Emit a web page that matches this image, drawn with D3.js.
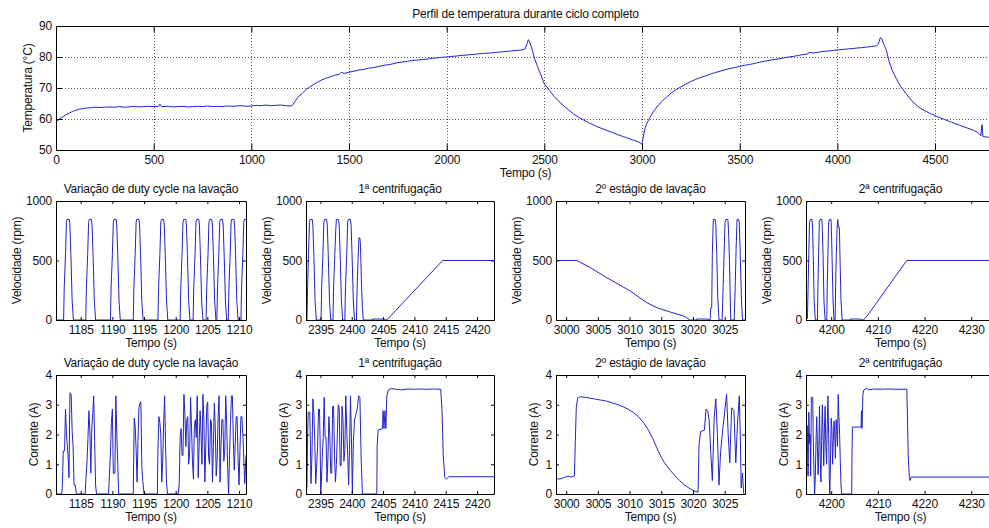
<!DOCTYPE html>
<html>
<head>
<meta charset="utf-8">
<script src="https://cdn.jsdelivr.net/npm/d3@7"></script>
<style>
  body { margin: 0; background: #fff; }
  svg { display: block; background: #fff; }
  text { font-family: "Liberation Sans", Arial, Helvetica, sans-serif; font-size: 12px; letter-spacing: -0.2px; fill: #111; }
</style>
</head>
<body>
<svg id="chart" width="989" height="528"></svg>
<script>
// ---- data ----
const tempTitle = 'Perfil de temperatura durante ciclo completo';
const panelTitles = ['Variação de duty cycle na lavação', '1ª centrifugação', '2º estágio de lavação', '2ª centrifugação'];

const tempXTicks = [0, 500, 1000, 1500, 2000, 2500, 3000, 3500, 4000, 4500];
const tempYTicks = [50, 60, 70, 80, 90];
const velYTicks = [0, 500, 1000];
const curYTicks = [0, 1, 2, 3, 4];
const panelXTicks = [
  [1185, 1190, 1195, 1200, 1205, 1210],
  [2395, 2400, 2405, 2410, 2415, 2420],
  [3000, 3005, 3010, 3015, 3020, 3025],
  [4200, 4210, 4220, 4230],
];
const panelXDomains = [[1181.1, 1211.1], [2392.7, 2422.7], [2998.4, 3028.2], [4194.6, 4235.1]];

// temperatura (s, °C)
const temperature = [
  [0, 59.4], [10, 59.6], [25, 60.3], [40, 60.9], [55, 61.5], [70, 62.0], [85, 62.4], [100, 62.8],
  [115, 63.1], [130, 63.3], [150, 63.5], [175, 63.6], [200, 63.8], [225, 63.7], [250, 63.8], [275, 63.9],
  [300, 63.8], [325, 64.0], [350, 63.8], [375, 63.9], [400, 64.1], [425, 63.9], [450, 64.0], [475, 64.1],
  [500, 64.0], [525, 64.1], [532, 64.8], [540, 64.0], [575, 64.1], [600, 63.9], [625, 64.0], [650, 64.1],
  [675, 63.9], [700, 64.0], [725, 64.1], [750, 64.0], [775, 64.2], [800, 64.0], [825, 64.1], [850, 64.0],
  [875, 64.2], [900, 64.1], [925, 64.2], [950, 64.3], [975, 64.1], [1000, 64.2], [1025, 64.4], [1050, 64.3],
  [1075, 64.5], [1100, 64.3], [1125, 64.4], [1150, 64.5], [1175, 64.3], [1200, 64.2], [1210, 64.4],
  [1225, 65.8], [1240, 67.2], [1260, 68.2], [1280, 69.5], [1300, 70.4], [1320, 71.2], [1340, 71.9],
  [1360, 72.6], [1380, 73.1], [1400, 73.5], [1425, 74.1], [1450, 74.4], [1460, 75.1], [1475, 74.7],
  [1500, 75.1], [1525, 75.4], [1550, 75.8], [1575, 76.0], [1600, 76.4], [1625, 76.6], [1650, 76.9],
  [1675, 77.3], [1700, 77.5], [1725, 77.8], [1750, 78.2], [1775, 78.4], [1800, 78.6], [1825, 78.9],
  [1850, 79.0], [1875, 79.2], [1900, 79.3], [1925, 79.6], [1950, 79.7], [1975, 79.9], [2000, 80.0],
  [2025, 80.2], [2050, 80.3], [2075, 80.5], [2100, 80.6], [2125, 80.8], [2150, 80.9], [2175, 81.1],
  [2200, 81.2], [2225, 81.3], [2250, 81.5], [2275, 81.6], [2300, 81.8], [2325, 81.9], [2350, 82.1],
  [2375, 82.2], [2400, 82.5], [2410, 84.0], [2418, 85.6], [2425, 84.8], [2435, 83.0], [2450, 79.5],
  [2465, 76.9], [2480, 74.6], [2500, 71.3], [2525, 69.3], [2550, 67.3], [2575, 65.6], [2600, 64.2],
  [2625, 62.9], [2650, 61.6], [2675, 60.6], [2700, 59.7], [2725, 58.9], [2750, 58.1], [2775, 57.4],
  [2800, 56.8], [2825, 56.2], [2850, 55.6], [2875, 55.0], [2900, 54.4], [2925, 53.9], [2950, 53.3],
  [2975, 52.8], [2990, 52.3], [2998, 51.9], [3002, 52.6], [3008, 54.8], [3015, 57.0], [3025, 58.6],
  [3040, 60.5], [3060, 62.5], [3080, 64.2], [3100, 65.6], [3125, 67.0], [3150, 68.4], [3175, 69.5],
  [3200, 70.4], [3225, 71.3], [3250, 72.1], [3275, 72.8], [3300, 73.4], [3325, 73.9], [3350, 74.5],
  [3375, 75.0], [3400, 75.4], [3425, 75.9], [3450, 76.3], [3475, 76.6], [3500, 77.0], [3525, 77.3],
  [3550, 77.6], [3575, 77.9], [3600, 78.3], [3625, 78.6], [3650, 78.9], [3675, 79.2], [3700, 79.4],
  [3725, 79.7], [3750, 80.0], [3775, 80.2], [3800, 80.5], [3825, 80.8], [3850, 81.0], [3855, 81.5],
  [3875, 81.3], [3900, 81.5], [3925, 81.8], [3950, 81.9], [3975, 82.1], [4000, 82.3], [4025, 82.4],
  [4050, 82.6], [4075, 82.7], [4100, 82.9], [4125, 83.0], [4150, 83.2], [4175, 83.4], [4200, 83.6],
  [4210, 84.2], [4220, 86.3], [4228, 85.8], [4238, 84.0], [4250, 82.4], [4265, 78.6], [4280, 75.8],
  [4300, 73.2], [4325, 70.4], [4350, 68.3], [4375, 66.3], [4400, 64.7], [4425, 63.5], [4450, 62.6],
  [4475, 61.8], [4500, 61.1], [4525, 60.4], [4550, 59.8], [4575, 59.2], [4600, 58.6], [4625, 58.0],
  [4650, 57.4], [4675, 56.9], [4700, 56.3], [4720, 55.6], [4735, 54.6], [4738, 57.4], [4741, 58.2],
  [4745, 54.4], [4760, 54.2], [4780, 54.1], [4805, 54.0],
];

// velocidade (s, rpm)
const vel1 = [
  [1181.1, 0], [1182.3, 0], [1182.4, 270], [1182.6, 550], [1182.75, 820], [1182.85, 845], [1183.2, 845], [1183.3, 790], [1183.45, 550], [1183.65, 160], [1183.85, 0],
  [1185.8, 0], [1185.9, 270], [1186.1, 550], [1186.25, 820], [1186.35, 845], [1186.7, 845], [1186.8, 790], [1186.95, 550], [1187.15, 160], [1187.35, 0],
  [1189.7, 0], [1189.8, 270], [1190.0, 550], [1190.15, 820], [1190.25, 845], [1190.6, 845], [1190.7, 790], [1190.85, 550], [1191.05, 160], [1191.25, 0],
  [1193.3, 0], [1193.4, 270], [1193.6, 550], [1193.75, 820], [1193.85, 845], [1194.2, 845], [1194.3, 790], [1194.45, 550], [1194.65, 160], [1194.85, 0],
  [1197.2, 0], [1197.3, 270], [1197.5, 550], [1197.65, 820], [1197.75, 845], [1198.1, 845], [1198.2, 790], [1198.35, 550], [1198.55, 160], [1198.75, 0],
  [1200.7, 0], [1200.8, 270], [1201.0, 550], [1201.15, 820], [1201.25, 845], [1201.6, 845], [1201.7, 790], [1201.85, 550], [1202.05, 160], [1202.25, 0],
  [1202.75, 0], [1202.85, 270], [1203.05, 550], [1203.2, 820], [1203.3, 845], [1203.65, 845], [1203.75, 790], [1203.9, 550], [1204.1, 160], [1204.3, 0],
  [1204.8, 0], [1204.9, 270], [1205.1, 550], [1205.25, 820], [1205.35, 845], [1205.7, 845], [1205.8, 790], [1205.95, 550], [1206.15, 160], [1206.35, 0],
  [1206.5, 0], [1206.6, 270], [1206.8, 550], [1206.95, 820], [1207.05, 845], [1207.4, 845], [1207.5, 790], [1207.65, 550], [1207.85, 160], [1208.05, 0],
  [1208.3, 0], [1208.4, 270], [1208.6, 550], [1208.75, 820], [1208.85, 845], [1209.2, 845], [1209.3, 790], [1209.45, 550], [1209.65, 160], [1209.85, 0],
  [1210.3, 0], [1210.4, 270], [1210.6, 550], [1210.75, 820], [1210.85, 845], [1211.1, 845],
];
const vel2 = [
  [2392.7, 0], [2392.85, 0], [2392.95, 270], [2393.1, 550], [2393.25, 820], [2393.35, 845], [2393.7, 845], [2393.8, 790], [2393.95, 550], [2394.15, 160], [2394.35, 0],
  [2395.1, 0], [2395.2, 270], [2395.4, 550], [2395.55, 820], [2395.65, 845], [2396.0, 845], [2396.1, 790], [2396.25, 550], [2396.45, 160], [2396.65, 0],
  [2397.0, 0], [2397.1, 270], [2397.3, 550], [2397.45, 760], [2397.55, 845], [2397.9, 845], [2398.0, 790], [2398.15, 550], [2398.35, 160], [2398.55, 0],
  [2398.9, 0], [2399.0, 270], [2399.2, 550], [2399.35, 820], [2399.45, 845], [2399.8, 845], [2399.9, 790], [2400.05, 550], [2400.25, 160], [2400.45, 0],
  [2400.75, 0], [2400.85, 250], [2401.0, 500], [2401.15, 690], [2401.3, 690], [2401.4, 620], [2401.55, 300], [2401.7, 100], [2401.85, 0],
  [2403.3, 0], [2403.35, 8], [2405.2, 8], [2405.3, 0], [2405.6, 0], [2414.5, 500], [2422.7, 500],
];
const vel3 = [
  [2998.4, 500], [3001.7, 500], [3003.8, 440], [3006.4, 356], [3010.1, 244], [3012.7, 146], [3014.3, 104],
  [3016.4, 67], [3018.5, 34], [3019.0, 20], [3019.5, 0], [3020.5, 0], [3020.6, 8], [3022.4, 8], [3022.5, 0],
  [3022.7, 0], [3022.8, 100], [3022.95, 100], [3023.05, 550], [3023.2, 845], [3023.5, 845], [3023.6, 800], [3023.75, 550], [3023.9, 200], [3024.1, 0],
  [3024.6, 0], [3024.75, 270], [3024.9, 550], [3025.05, 820], [3025.2, 845], [3025.5, 845], [3025.6, 760], [3025.75, 500], [3025.95, 0],
  [3026.5, 0], [3026.65, 270], [3026.8, 600], [3026.95, 845], [3027.2, 845], [3027.3, 820], [3027.45, 550], [3027.65, 160], [3027.8, 0], [3028.2, 0],
];
const vel4 = [
  [4194.6, 0], [4194.9, 10], [4195.05, 270], [4195.2, 550], [4195.35, 820], [4195.5, 845], [4195.9, 845], [4196.0, 790], [4196.15, 550], [4196.35, 160], [4196.6, 0],
  [4197.05, 0], [4197.15, 270], [4197.3, 550], [4197.45, 820], [4197.6, 845], [4198.0, 845], [4198.1, 760], [4198.25, 550], [4198.45, 160], [4198.7, 0],
  [4199.05, 0], [4199.15, 270], [4199.3, 550], [4199.45, 820], [4199.6, 845], [4199.95, 845], [4200.05, 760], [4200.2, 500], [4200.4, 160], [4200.6, 0],
  [4200.85, 0], [4200.95, 300], [4201.1, 550], [4201.25, 760], [4201.4, 845], [4201.55, 780], [4201.75, 780], [4201.9, 500], [4202.1, 160], [4202.35, 0],
  [4204.0, 0], [4204.05, 8], [4206.4, 8], [4206.5, 0], [4206.9, 0], [4208.0, 50], [4216.2, 500], [4235.1, 500],
];

// corrente (s, A)
const cur1 = [
  [1181.1, 0], [1182.0, 0], [1182.1, 0.25], [1182.25, 1.45], [1182.45, 1.45], [1182.6, 2.85], [1182.75, 2.0], [1182.9, 1.6], [1183.05, 1.1], [1183.15, 0.55], [1183.3, 3.4], [1183.5, 3.35], [1183.65, 2.1], [1183.8, 1.6], [1183.95, 0.3], [1184.15, 0.3], [1184.3, 0],
  [1185.7, 0], [1185.8, 0.45], [1186.0, 1.1], [1186.15, 1.9], [1186.3, 2.8], [1186.45, 2.1], [1186.6, 0.7], [1186.75, 2.2], [1186.9, 2.7], [1187.05, 3.3], [1187.2, 1.8], [1187.35, 0.3], [1187.5, 0],
  [1189.4, 0], [1189.5, 0.45], [1189.7, 1.4], [1189.85, 2.4], [1190.0, 2.85], [1190.15, 0.7], [1190.4, 0.7], [1190.55, 3.3], [1190.7, 2.0], [1190.85, 1.0], [1191.0, 0],
  [1193.3, 0], [1193.45, 2.55], [1193.6, 2.3], [1193.75, 1.5], [1193.9, 0.4], [1194.05, 1.8], [1194.2, 2.9], [1194.35, 3.05], [1194.5, 3.1], [1194.65, 0.9], [1194.8, 0.45], [1195.0, 0],
  [1197.1, 0], [1197.2, 1.5], [1197.35, 2.6], [1197.5, 2.4], [1197.65, 2.0], [1197.8, 0.4], [1197.95, 1.1], [1198.1, 2.4], [1198.25, 3.3], [1198.4, 1.6], [1198.55, 0.4], [1198.7, 0],
  [1200.4, 0], [1200.55, 0.3], [1200.7, 1.9], [1200.85, 2.2], [1201.0, 1.3], [1201.15, 1.3], [1201.3, 3.35], [1201.45, 2.7], [1201.6, 1.6], [1201.75, 2.5], [1201.9, 2.6],
  [1202.05, 1.0], [1202.2, 1.4], [1202.35, 3.25], [1202.5, 2.2], [1202.65, 1.1], [1202.8, 0.5], [1202.95, 2.3], [1203.1, 2.5], [1203.25, 1.9], [1203.4, 3.3], [1203.55, 0.55],
  [1203.7, 1.6], [1203.85, 2.8], [1204.0, 2.0], [1204.15, 1.0], [1204.3, 3.35], [1204.45, 2.5], [1204.6, 0.4], [1204.75, 1.6], [1204.9, 2.95], [1205.05, 3.1], [1205.2, 1.2],
  [1205.35, 1.0], [1205.5, 2.5], [1205.65, 2.4], [1205.8, 0.4], [1205.95, 1.6], [1206.1, 3.05], [1206.25, 2.2], [1206.4, 0.6], [1206.55, 1.2], [1206.7, 2.6], [1206.85, 3.3],
  [1207.0, 0.4], [1207.15, 1.6], [1207.3, 2.5], [1207.45, 2.5], [1207.6, 1.1], [1207.75, 1.5], [1207.9, 3.3], [1208.05, 2.4], [1208.2, 0.9], [1208.35, 0], [1208.5, 1.3],
  [1208.65, 2.4], [1208.8, 3.3], [1208.95, 3.3], [1209.1, 1.8], [1209.25, 0.8], [1209.4, 1.7], [1209.55, 2.6], [1209.7, 2.6], [1209.85, 1.2], [1210.0, 0.3], [1210.15, 1.5],
  [1210.3, 2.6], [1210.45, 2.6], [1210.6, 2.0], [1210.75, 1.2], [1210.9, 0.35], [1211.1, 1.3],
];
const cur2 = [
  [2392.7, 0.25], [2392.85, 0.2], [2392.95, 2.0], [2393.05, 2.75], [2393.3, 2.75], [2393.4, 1.7], [2393.5, 0.35], [2393.65, 1.3], [2393.8, 3.2], [2393.95, 2.7],
  [2394.1, 1.8], [2394.25, 0.35], [2394.4, 0.9], [2394.55, 1.6], [2394.7, 2.85], [2394.85, 2.85], [2394.95, 1.8], [2395.05, 0], [2395.15, 0.4], [2395.3, 1.25],
  [2395.45, 1.9], [2395.6, 3.25], [2395.75, 1.9], [2395.9, 1.9], [2396.05, 0.4], [2396.2, 1.2], [2396.35, 2.6], [2396.5, 2.0], [2396.65, 0.7], [2396.8, 0.7],
  [2396.95, 2.95], [2397.1, 2.95], [2397.25, 1.3], [2397.4, 0.4], [2397.55, 1.0], [2397.7, 2.0], [2397.85, 3.0], [2398.0, 2.9], [2398.15, 0.95], [2398.3, 0.95],
  [2398.45, 2.95], [2398.6, 2.5], [2398.75, 1.1], [2398.9, 1.5], [2399.05, 3.3], [2399.2, 2.2], [2399.35, 1.3], [2399.5, 0.3], [2399.65, 1.5], [2399.8, 3.3],
  [2399.95, 1.9], [2400.1, 0], [2400.25, 1.7], [2400.45, 2.5], [2400.7, 2.7], [2400.9, 2.9], [2401.1, 3.3], [2401.3, 3.25], [2401.5, 1.2], [2401.7, 0],
  [2404.0, 0], [2404.05, 1.6], [2404.2, 2.15], [2404.9, 2.2], [2405.0, 2.8], [2405.15, 2.2], [2405.3, 2.8], [2405.45, 2.2], [2405.6, 3.3], [2405.85, 3.5],
  [2406.3, 3.55], [2407.0, 3.52], [2408.0, 3.5], [2409.0, 3.53], [2410.0, 3.52], [2411.0, 3.53], [2412.0, 3.52], [2413.0, 3.53], [2414.2, 3.52],
  [2414.4, 2.8], [2414.6, 1.3], [2414.85, 0.55], [2415.1, 0.5], [2415.5, 0.58], [2422.7, 0.58],
];
const cur3 = [
  [2998.4, 0.52], [2999.0, 0.5], [2999.6, 0.55], [3000.3, 0.6], [3000.8, 0.57], [3001.3, 0.6], [3001.45, 1.8], [3001.6, 2.9], [3001.8, 3.22],
  [3002.3, 3.27], [3003.0, 3.25], [3003.8, 3.22], [3004.6, 3.19], [3005.4, 3.16], [3006.4, 3.12], [3007.3, 3.06], [3008.2, 3.0], [3009.0, 2.93],
  [3009.8, 2.85], [3010.6, 2.74], [3011.4, 2.6], [3012.2, 2.4], [3013.0, 2.14], [3013.7, 1.85], [3014.3, 1.55], [3014.8, 1.32], [3015.5, 1.05],
  [3016.4, 0.8], [3017.2, 0.6], [3017.9, 0.45], [3018.7, 0.3], [3019.5, 0.18], [3020.2, 0.1], [3020.8, 0.06],
  [3020.95, 1.65], [3021.2, 2.1], [3021.8, 2.15], [3022.05, 2.85], [3022.3, 2.8], [3022.55, 2.5], [3022.8, 1.4], [3023.05, 0.45], [3023.35, 2.6],
  [3023.6, 3.2], [3023.85, 2.0], [3024.1, 0.3], [3024.35, 1.4], [3024.7, 2.2], [3025.3, 3.35], [3025.55, 2.0], [3025.8, 1.05], [3026.1, 2.9],
  [3026.45, 2.8], [3026.75, 1.05], [3027.0, 2.3], [3027.3, 3.3], [3027.45, 2.05], [3027.6, 0.2], [3027.8, 0.7], [3028.0, 0],
];
const cur4 = [
  [4194.6, 0.4], [4194.75, 1.0], [4194.85, 2.3], [4194.95, 1.3], [4195.05, 0.6], [4195.2, 2.75], [4195.35, 1.7], [4195.5, 2.0], [4195.6, 0.6],
  [4195.75, 3.25], [4196.05, 3.25], [4196.15, 1.9], [4196.3, 0.8], [4196.45, 0], [4196.6, 0.6], [4196.75, 1.8], [4196.9, 2.6], [4197.05, 1.6],
  [4197.2, 0.65], [4197.35, 1.5], [4197.5, 2.95], [4197.65, 1.2], [4197.8, 0.4], [4197.95, 1.8], [4198.1, 3.0], [4198.25, 2.0], [4198.4, 0.95],
  [4198.55, 2.2], [4198.7, 2.95], [4198.85, 1.6], [4199.0, 1.0], [4199.15, 2.3], [4199.3, 3.3], [4199.45, 2.0], [4199.6, 0.5], [4199.7, 0],
  [4199.85, 1.2], [4200.0, 2.55], [4200.15, 2.2], [4200.3, 1.0], [4200.45, 1.8], [4200.6, 2.45], [4200.75, 2.1], [4200.9, 1.2], [4201.05, 2.5],
  [4201.2, 2.1], [4201.35, 1.6], [4201.5, 3.35], [4201.65, 2.6], [4201.8, 2.0], [4201.95, 1.1], [4202.1, 0.3], [4202.25, 0],
  [4204.4, 0], [4204.45, 1.2], [4204.55, 2.25], [4206.4, 2.25], [4206.5, 2.8], [4206.6, 2.2], [4206.7, 2.8], [4206.8, 3.35], [4207.0, 3.5],
  [4207.6, 3.55], [4208.2, 3.5], [4209.0, 3.53], [4210.5, 3.52], [4212.0, 3.53], [4214.0, 3.52], [4216.2, 3.52],
  [4216.35, 2.5], [4216.5, 1.3], [4216.75, 0.55], [4216.9, 0.45], [4217.1, 0.57], [4235.1, 0.57],
];

const velSeries = [vel1, vel2, vel3, vel4];
const curSeries = [cur1, cur2, cur3, cur4];

// ---- layout ----
const lineColor = '#2323c8';
const svg = d3.select('#chart');
const colLeft = [56, 306, 556, 806];
const colRight = [246, 494, 745, 995];
const fmt = d3.format('d');

function drawPanel(cfg) {
  const x = d3.scaleLinear().domain(cfg.xDomain).range([cfg.left, cfg.right]);
  const y = d3.scaleLinear().domain(cfg.yDomain).range([cfg.bottom, cfg.top]);
  const g = svg.append('g');
  const clipId = `clip-${cfg.id}`;

  svg.append('clipPath').attr('id', clipId).append('rect')
    .attr('x', cfg.left)
    .attr('y', cfg.top)
    .attr('width', cfg.right - cfg.left + 1)
    .attr('height', cfg.bottom - cfg.top + 1);

  if (cfg.grid) {
    const grid = g.append('g')
      .attr('stroke', '#555')
      .attr('stroke-width', 1)
      .attr('stroke-dasharray', '1,2');
    grid.selectAll('.gx').data(cfg.xTicks.slice(1)).join('line')
      .attr('x1', d => Math.round(x(d)) + 0.5)
      .attr('x2', d => Math.round(x(d)) + 0.5)
      .attr('y1', cfg.top)
      .attr('y2', cfg.bottom);
    grid.selectAll('.gy').data(cfg.yTicks.slice(1, -1)).join('line')
      .attr('y1', d => Math.round(y(d)) + 0.5)
      .attr('y2', d => Math.round(y(d)) + 0.5)
      .attr('x1', cfg.left)
      .attr('x2', cfg.right);
  }

  g.append('path')
    .datum(cfg.data)
    .attr('clip-path', `url(#${clipId})`)
    .attr('fill', 'none')
    .attr('stroke', lineColor)
    .attr('stroke-width', 1)
    .attr('stroke-linejoin', 'round')
    .attr('d', d3.line().x(d => x(d[0])).y(d => y(d[1])));

  const t = cfg.tickLen;
  const axes = [
    [d3.axisBottom(x).tickValues(cfg.xTicks).tickFormat(fmt).tickPadding(5), `translate(0,${cfg.bottom})`, true],
    [d3.axisTop(x).tickValues(cfg.xTicks).tickFormat(''), `translate(0,${cfg.top})`, false],
    [d3.axisLeft(y).tickValues(cfg.yTicks).tickFormat(fmt).tickPadding(4), `translate(${cfg.left},0)`, true],
    [d3.axisRight(y).tickValues(cfg.yTicks).tickFormat(''), `translate(${cfg.right},0)`, false],
  ];
  axes.forEach(([axis, transform, labels]) => {
    const a = g.append('g')
      .attr('transform', transform)
      .call(axis.tickSizeInner(-t).tickSizeOuter(0))
      .attr('font-size', null)
      .attr('font-family', null);
    a.select('.domain').attr('stroke', '#000');
    a.selectAll('.tick line').attr('stroke', '#000');
    if (!labels) a.selectAll('.tick text').remove();
  });

  const cx = (cfg.left + cfg.right) / 2;
  g.append('text')
    .attr('x', cx)
    .attr('y', cfg.top - 8)
    .attr('text-anchor', 'middle')
    .text(cfg.title);
  g.append('text')
    .attr('x', cx)
    .attr('y', cfg.bottom + 27)
    .attr('text-anchor', 'middle')
    .text('Tempo (s)');
  g.append('text')
    .attr('transform', `translate(${cfg.left - cfg.yLabelGap},${(cfg.top + cfg.bottom) / 2}) rotate(-90)`)
    .attr('text-anchor', 'middle')
    .text(cfg.yLabel);
}

drawPanel({
  id: 'temp',
  left: 56, right: 995, top: 26, bottom: 150,
  xDomain: [0, 4807], yDomain: [50, 90],
  xTicks: tempXTicks, yTicks: tempYTicks,
  data: temperature,
  grid: true,
  tickLen: 6,
  title: tempTitle,
  yLabel: 'Temperatura (°C)',
  yLabelGap: 24,
});

panelTitles.forEach((title, i) => {
  drawPanel({
    id: `vel${i}`,
    left: colLeft[i], right: colRight[i], top: 201, bottom: 320,
    xDomain: panelXDomains[i], yDomain: [0, 1000],
    xTicks: panelXTicks[i], yTicks: velYTicks,
    data: velSeries[i],
    tickLen: 3,
    title,
    yLabel: 'Velocidade (rpm)',
    yLabelGap: 35,
  });
  drawPanel({
    id: `cur${i}`,
    left: colLeft[i], right: colRight[i], top: 375, bottom: 494,
    xDomain: panelXDomains[i], yDomain: [0, 4],
    xTicks: panelXTicks[i], yTicks: curYTicks,
    data: curSeries[i],
    tickLen: 3,
    title,
    yLabel: 'Corrente (A)',
    yLabelGap: 18,
  });
});
</script>
</body>
</html>
